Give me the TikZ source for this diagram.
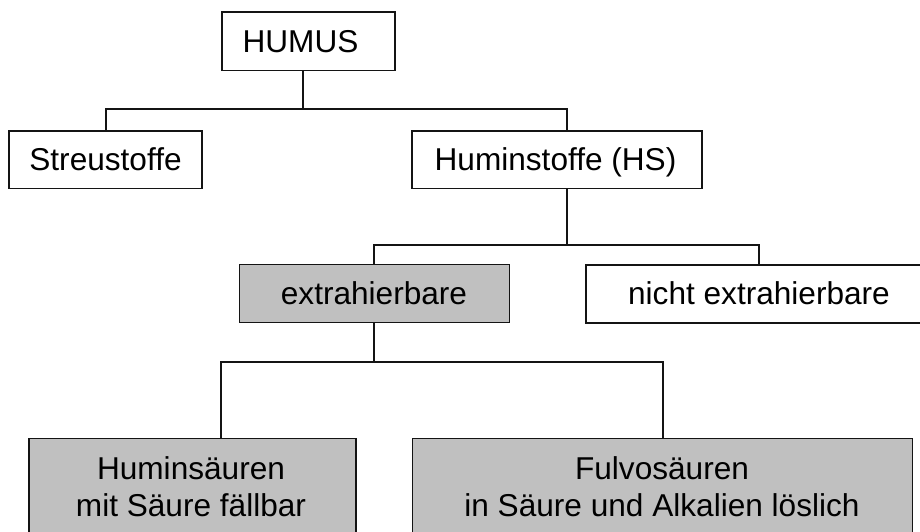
\documentclass[tikz,border=0pt]{standalone}
\usepackage{fontspec}
\setmainfont{Liberation Sans}
\definecolor{boxgray}{RGB}{192,192,192}
\definecolor{edge}{RGB}{20,20,20}
\begin{document}
\begin{tikzpicture}[x=1pt,y=-1pt,
  box/.style={draw=edge, line width=1.6pt, rectangle, inner sep=0pt},
  plainbox/.style={box, fill=white},
  graybox/.style={box, fill=boxgray},
  lbl/.style={anchor=base, inner sep=0pt, font=\fontsize{31.6}{36.7}\selectfont},
  link/.style={draw=edge, line width=1.6pt}]
  \useasboundingbox (0,0) rectangle (920,532);
  \clip (0,0) rectangle (920,532);

  % boxes
  \node[plainbox, minimum width=173.3pt, minimum height=58.4pt] (humus) at (308.4,41.5) {};
  \node[plainbox, minimum width=193pt, minimum height=57.6pt] (streu) at (105.5,159.5) {};
  \node[plainbox, minimum width=289.7pt, minimum height=57.6pt] (hs) at (556.9,159.5) {};
  \node[graybox, minimum width=270pt, minimum height=58pt] (extr) at (374.3,293.3) {};
  \node[plainbox, minimum width=360pt, minimum height=57.7pt] (nicht) at (765.7,293.9) {};
  \node[graybox, minimum width=327pt, minimum height=120pt] (hsr) at (192.2,498.3) {};
  \node[graybox, minimum width=500pt, minimum height=120pt] (fsr) at (662.3,498.3) {};

  % labels
  \node[lbl] (humusT) at (300.5,52.7) {HUMUS};
  \node[lbl] (streuT) at (105.5,170.7) {Streustoffe};
  \node[lbl] (hsT) at (555.5,170.2) {Huminstoffe (HS)};
  \node[lbl] (extrT) at (374,304) {extrahierbare};
  \node[lbl] (nichtT) at (759,304) {nicht extrahierbare};
  \node[lbl] (hsrA) at (191,479) {Huminsäuren};
  \node[lbl] (hsrB) at (191,516) {mit Säure fällbar};
  \node[lbl] (fsrA) at (662,479) {Fulvosäuren};
  \node[lbl] (fsrB) at (662,516) {in Säure und Alkalien löslich};

  % junction points of the tree
  \coordinate (a0) at (302.7,109);
  \coordinate (a1) at (106,109);
  \coordinate (a2) at (566.7,109);
  \coordinate (b0) at (566.7,245);
  \coordinate (b1) at (374,245);
  \coordinate (b2) at (759,245);
  \coordinate (c0) at (374,362);
  \coordinate (c1) at (221,362);
  \coordinate (c2) at (662.7,362);

  % connectors
  \draw[link] (humus.south -| a0) -- (a0);
  \draw[link] (streu.north -| a1) -- (a1) -- (a2) -- (hs.north -| a2);
  \draw[link] (hs.south -| b0) -- (b0);
  \draw[link] (extr.north -| b1) -- (b1) -- (b2) -- (nicht.north -| b2);
  \draw[link] (extr.south -| c0) -- (c0);
  \draw[link] (hsr.north -| c1) -- (c1) -- (c2) -- (fsr.north -| c2);
\end{tikzpicture}
\end{document}
